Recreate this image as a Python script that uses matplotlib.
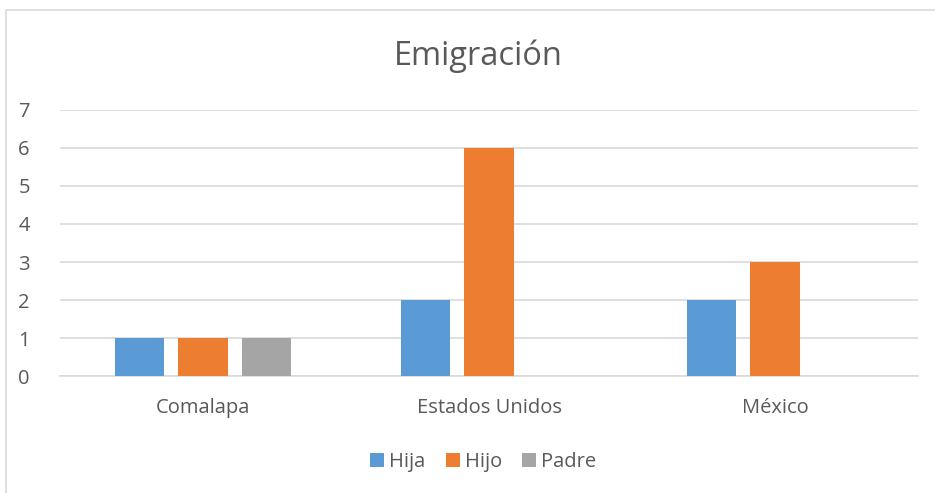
import numpy as np
import matplotlib.pyplot as plt
from matplotlib.patches import Rectangle

categories = ['Comalapa', 'Estados Unidos', 'México']
hija = [1, 2, 2]
hijo = [1, 6, 3]
padre = [1, 0, 0]
series = ['Hija', 'Hijo', 'Padre']
colors = ['#5B9BD5', '#ED7D31', '#A5A5A5']
yticks = [0, 1, 2, 3, 4, 5, 6, 7]

plt.rcParams['font.family'] = ['Open Sans', 'DejaVu Sans']
txt = '#595959'
grid = '#D9D9D9'

fig = plt.figure(figsize=(9.35, 4.93), dpi=100)
ax = fig.add_axes([0.0642, 0.2373, 0.9176, 0.5396])

# chart frame
fig.patches.append(Rectangle((6 / 935, -0.1), 1.2, 1 - 10 / 493 + 0.1,
                             transform=fig.transFigure, fill=False,
                             edgecolor=grid, linewidth=1.2))

x = np.arange(len(categories))
w = 0.172
step = 0.222
for i, (vals, name, c) in enumerate(zip([hija, hijo, padre], series, colors)):
    ax.bar(x + (i - 1) * step, vals, width=w, color=c, label=name, zorder=3)

ax.set_xlim(-0.5, len(categories) - 0.5)
ax.set_ylim(0, 7)
ax.set_yticks(yticks)
ax.set_xticks(x)
ax.set_xticklabels(categories)
ax.yaxis.grid(True, color=grid, linewidth=1.2, zorder=0)
for s in ['top', 'right', 'left']:
    ax.spines[s].set_visible(False)
ax.spines['bottom'].set_color(grid)
ax.spines['bottom'].set_linewidth(1.2)
ax.tick_params(axis='both', length=0, labelsize=14.5, colors=txt)
ax.tick_params(axis='y', pad=30)
ax.tick_params(axis='x', pad=16)
for lab in ax.get_yticklabels():
    lab.set_horizontalalignment('left')

fig.text(0.512, 0.885, 'Emigración', ha='center', va='center', fontsize=23.5, color=txt)

leg = fig.legend(loc='center', bbox_to_anchor=(0.517, 0.062), ncol=3, frameon=False,
                 fontsize=14.5, handlelength=0.7, handleheight=0.7,
                 handletextpad=0.25, columnspacing=1.0)
for t in leg.get_texts():
    t.set_color(txt)

fig.savefig('out.png', dpi=100)
